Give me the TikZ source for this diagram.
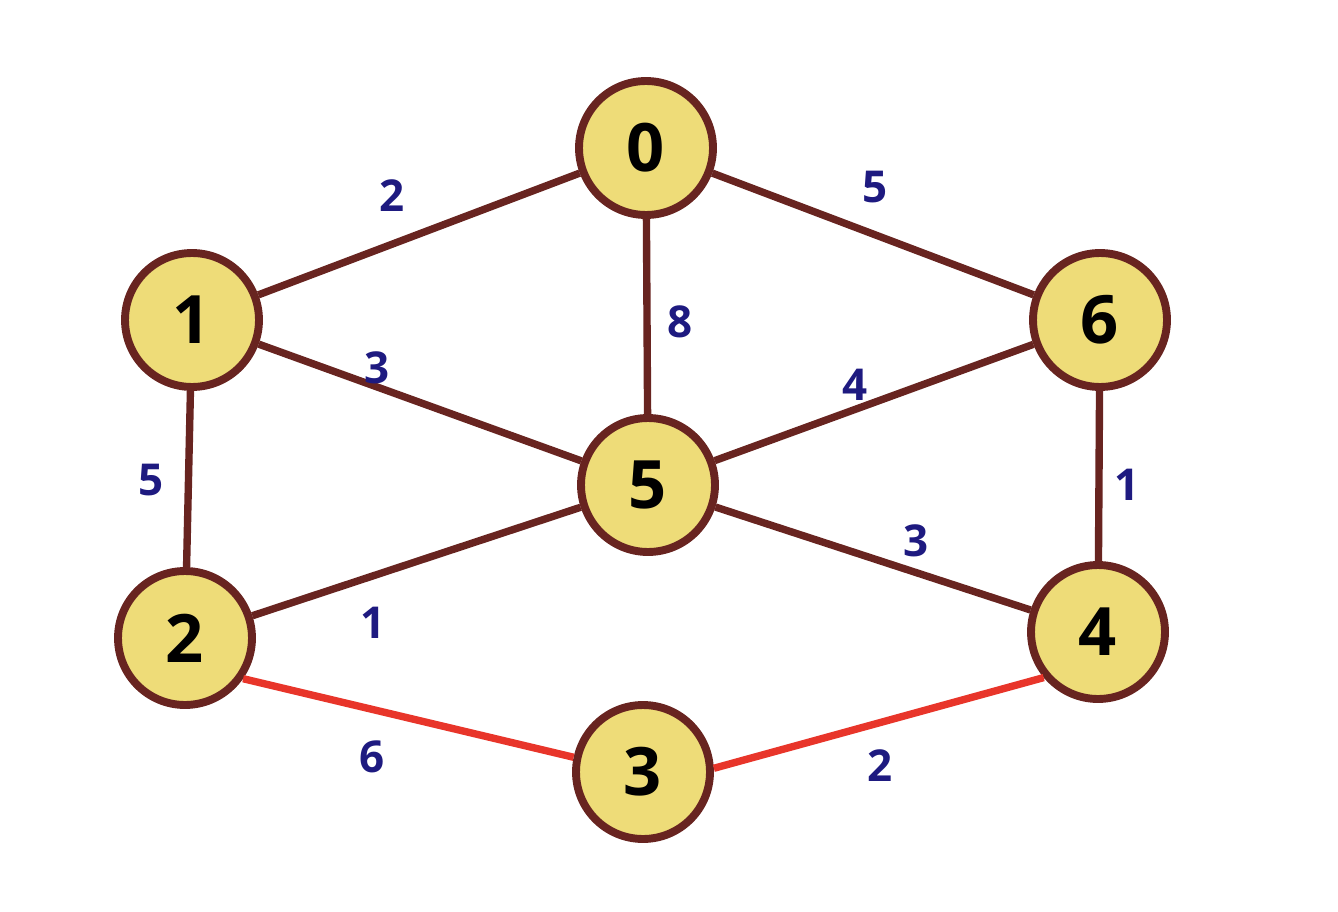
\documentclass[tikz,border=0pt]{standalone}
\usepackage{fontspec}
\setmainfont{Open Sans}
\usepackage{tikz}
\usetikzlibrary{positioning, calc}
\definecolor{cB}{RGB}{104,36,32}
\definecolor{cF}{RGB}{238,220,120}
\definecolor{cL}{RGB}{30,26,128}
\definecolor{cR}{RGB}{232,53,42}

\begin{document}
\begin{tikzpicture}[x=0.02cm, y=-0.02cm,
    vertex/.style={circle, draw=cB, fill=cF, line width=4.5pt, minimum size=2.68cm,
        inner sep=0pt, font=\fontsize{38}{40}\selectfont\bfseries},
    edge/.style={draw=cB, line width=4.2pt},
    hot/.style={draw=cR, line width=4.2pt},
    weight/.style={text=cL, font=\fontsize{25}{27}\selectfont\bfseries}]
    \useasboundingbox (0,0) rectangle (1338,912);

    % Vertices
    \node[vertex] (n0) at (646,148) {0};
    \node[vertex] (n1) at (192,320) {1};
    \node[vertex] (n6) at (1100,320) {6};
    \node[vertex] (n5) at (648,485) {5};
    \node[vertex] (n2) at (185,638) {2};
    \node[vertex] (n4) at (1098,632) {4};
    \node[vertex] (n3) at (643,772) {3};

    % Edges
    \draw[edge] (n0) -- (n1);
    \draw[edge] (n0) -- (n6);
    \draw[edge] (n0) -- (n5);
    \draw[edge] (n1) -- (n5);
    \draw[edge] (n1) -- (n2);
    \draw[edge] (n6) -- (n5);
    \draw[edge] (n6) -- (n4);
    \draw[edge] (n5) -- (n4);
    \draw[edge] (n5) -- (n2);
    \draw[hot] (n2.-35) -- (n3.168);
    \draw[hot] (n3.3) -- (n4.220);

    % Weights
    \node[weight] (w01) at (392,196) {2};
    \node[weight] (w06) at (875,187) {5};
    \node[weight] (w05) at (680,322) {8};
    \node[weight] (w15) at (377,368) {3};
    \node[weight] (w56) at (855,385) {4};
    \node[weight] (w12) at (151,480) {5};
    \node[weight] (w64) at (1127,485) {1};
    \node[weight] (w54) at (916,541) {3};
    \node[weight] (w25) at (373,623) {1};
    \node[weight] (w23) at (372,757) {6};
    \node[weight] (w34) at (880,766) {2};
\end{tikzpicture}
\end{document}
